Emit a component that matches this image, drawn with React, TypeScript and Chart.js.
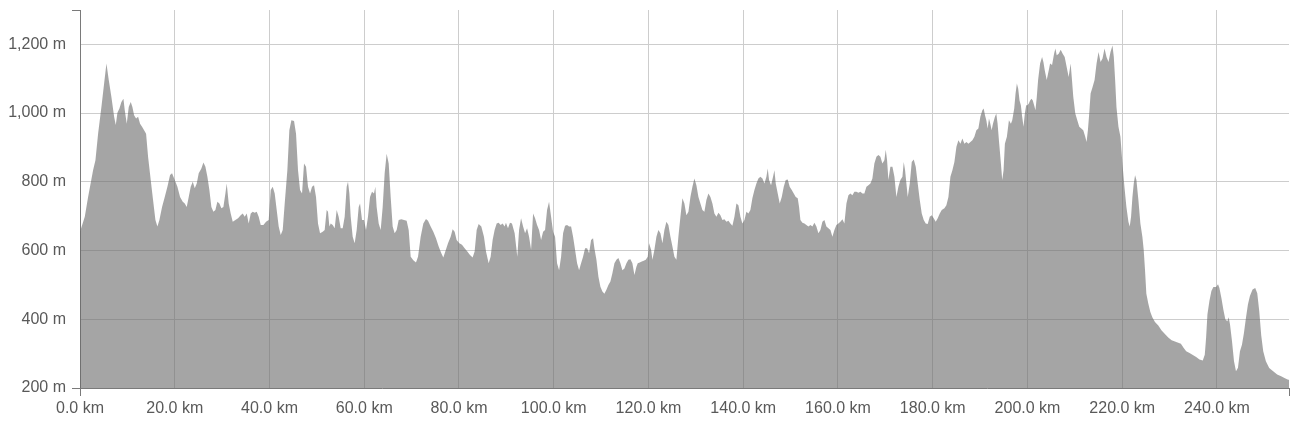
import React, { useEffect, useRef } from "react";
import { Chart, registerables } from "chart.js";

Chart.register(...registerables);

// Distance along the route (km)
const distanceKm: number[] = [
  0, 1.01, 1.71, 2.76, 3.26, 3.82, 4.52, 5.09, 5.58, 6.07, 6.63, 7.2, 7.55, 7.9, 8.32, 8.74, 9.17, 9.45, 9.87, 10.29,
  10.71, 11.06, 11.42, 11.84, 12.26, 12.68, 13.1, 13.53, 13.95, 14.37, 14.93, 15.42, 15.92, 16.34, 16.76, 17.32, 17.89, 18.45, 19.01, 19.43,
  20.0, 20.56, 21.12, 21.69, 22.11, 22.53, 22.95, 23.37, 23.8, 24.22, 24.64, 25.06, 25.62, 26.05, 26.47, 26.89, 27.31, 27.73, 28.16, 28.58,
  29.0, 29.42, 29.84, 30.27, 30.69, 30.97, 31.39, 31.81, 32.24, 32.8, 33.36, 33.92, 34.35, 34.77, 35.19, 35.61, 36.04, 36.46, 36.88, 37.3,
  37.72, 38.15, 38.71, 39.27, 39.83, 40.26, 40.68, 41.1, 41.52, 41.94, 42.37, 42.79, 43.21, 43.77, 44.19, 44.62, 45.18, 45.6, 46.02, 46.45,
  46.87, 47.29, 47.71, 48.13, 48.56, 48.98, 49.4, 49.82, 50.24, 50.67, 51.23, 51.65, 52.07, 52.35, 52.64, 52.92, 53.34, 53.76, 54.18, 54.6,
  55.03, 55.45, 55.87, 56.29, 56.57, 56.86, 57.14, 57.56, 57.98, 58.4, 58.83, 59.11, 59.53, 59.95, 60.37, 60.79, 61.22, 61.64, 62.06, 62.34,
  62.62, 63.05, 63.47, 63.89, 64.31, 64.73, 65.16, 65.58, 66.0, 66.42, 66.84, 67.27, 67.83, 68.39, 68.95, 69.38, 69.8, 70.36, 70.92, 71.35,
  71.91, 72.47, 73.03, 73.46, 74.02, 74.58, 75.14, 75.71, 76.27, 76.69, 77.11, 77.68, 78.24, 78.66, 79.08, 79.5, 80.07, 80.63, 81.19, 81.76,
  82.32, 82.88, 83.3, 83.73, 84.15, 84.71, 85.27, 85.7, 86.26, 86.68, 87.1, 87.52, 87.95, 88.37, 88.79, 89.21, 89.63, 89.91, 90.34, 90.76,
  91.18, 91.75, 92.31,
  92.68, 93.1, 93.53, 93.95, 94.37, 94.79, 95.22, 95.64, 96.06, 96.48, 96.9, 97.33, 97.75, 98.17, 98.59, 99.01, 99.44, 99.86,
  100.28, 100.7, 101.13, 101.55, 101.97, 102.39, 102.81, 103.24, 103.66, 104.08, 104.5, 104.93, 105.35, 105.77, 106.19, 106.61, 107.04, 107.46, 107.88, 108.3,
  108.58, 109.01, 109.43, 109.85, 110.27, 110.69, 111.12, 111.54, 111.96, 112.38, 112.81, 113.23, 113.65, 114.07, 114.49, 114.92, 115.34, 115.76, 116.18, 116.6,
  117.03, 117.45, 117.73, 118.15, 118.58, 119.0, 119.42, 119.84, 120.12, 120.55, 120.83, 121.25, 121.67, 122.09, 122.52, 122.94, 123.36, 123.78, 124.2, 124.63,
  125.05, 125.47, 125.89, 126.31, 126.74, 127.16, 127.58, 128.0, 128.43, 128.85, 129.27, 129.69, 130.11, 130.54, 130.96, 131.38, 131.8, 132.22, 132.65, 133.07,
  133.49, 133.91, 134.34, 134.76, 135.18, 135.6, 136.02, 136.45, 136.87, 137.29, 137.71, 138.14, 138.56, 138.98, 139.4, 139.82, 140.25, 140.67, 141.09, 141.51,
  141.93, 142.36, 142.78, 143.2, 143.62, 144.05, 144.47, 144.89, 145.17, 145.45, 145.87, 146.29, 146.58, 146.86, 147.28, 147.7, 148.13, 148.55, 148.97, 149.39,
  149.81, 150.24, 150.66, 151.08, 151.5, 151.78, 152.07, 152.49, 152.91, 153.33, 153.75, 154.18, 154.6, 155.02, 155.44, 155.86, 156.29, 156.71, 157.13, 157.55,
  157.98, 158.4, 158.82, 159.24, 159.66, 160.09, 160.51, 160.93, 161.35, 161.78, 162.2, 162.62, 163.04, 163.46, 163.89, 164.31, 164.73, 165.15, 165.57, 166.0,
  166.42, 166.84, 167.26, 167.68, 168.11, 168.53, 168.95, 169.37, 169.79, 170.08, 170.36, 170.64, 171.06, 171.49, 171.91, 172.33, 172.75, 173.17, 173.6, 173.88,
  174.16, 174.44, 174.72, 175.15, 175.57, 175.99, 176.41, 176.83, 177.26, 177.68, 178.1, 178.52, 178.94, 179.37, 179.79, 180.21, 180.63, 181.05, 181.48, 181.9,
  182.46, 182.88, 183.31, 183.73, 184.15, 184.57,
  185.0, 185.42, 185.84, 186.26, 186.68, 187.11, 187.53, 187.95, 188.37, 188.79, 189.21, 189.63, 190.05, 190.47, 190.75, 191.03, 191.31, 191.59, 191.87, 192.15,
  192.43, 192.71, 193.13, 193.41, 193.69, 193.97, 194.39, 194.67, 194.95, 195.23, 195.65, 196.08, 196.5, 196.78, 197.2, 197.48, 197.76, 198.04, 198.32, 198.6,
  198.88, 199.16, 199.44, 199.72, 200.0, 200.28, 200.56, 200.84, 201.12, 201.4, 201.68, 201.96, 202.24, 202.66, 203.08, 203.36, 203.64, 204.06, 204.49, 204.77,
  205.19, 205.61, 205.89, 206.17, 206.59, 207.01, 207.43, 207.85, 208.27, 208.69, 209.11, 209.39, 209.67, 210.09, 210.51, 210.93, 211.35, 211.77, 212.19, 212.47,
  212.75, 213.03, 213.32, 213.74, 214.16, 214.58, 215.0, 215.42, 215.84, 216.26, 216.68, 217.1, 217.52, 217.94, 218.22, 218.5, 218.78, 219.2, 219.62, 220.04,
  220.46, 220.88, 221.3, 221.58, 221.86, 222.15, 222.43, 222.71, 222.99, 223.41, 223.83, 224.25, 224.53, 224.81, 225.09, 225.51, 225.93, 226.35, 226.91, 227.61,
  228.31, 229.01, 229.71, 230.42, 231.12, 231.82, 232.38, 232.94, 233.5, 234.2, 234.9, 235.6, 236.3, 237.0, 237.42, 237.7, 237.98, 238.4, 238.82, 239.24,
  239.8, 240.22, 240.51, 240.93, 241.35, 241.77, 242.19, 242.47, 242.75, 243.17, 243.59, 244.01, 244.43, 244.85, 245.27, 245.69, 246.11, 246.53, 246.95, 247.51,
  248.07, 248.5, 248.92, 249.34, 249.76, 250.32, 251.02, 251.86, 252.7, 253.54, 254.24, 255.01, 255.2,
];

// Elevation (m)
const elevationM: number[] = [
  655, 698, 756, 834, 863, 940, 1018, 1086, 1144, 1096, 1047, 989, 965, 1001, 1013, 1032, 1042, 1008, 969, 1018,
  1032, 1018, 994, 984, 989, 969, 960, 950, 940, 873, 805, 747, 689, 670, 689, 727, 756, 786, 820, 825,
  805, 786, 756, 742, 737, 727, 756, 786, 800, 781, 795, 825, 839, 856, 844, 815, 776, 727, 713, 718,
  742, 737, 723, 727, 766, 795, 737, 708, 684, 689, 694, 703, 708, 698, 708, 679, 708, 713, 710, 713,
  698, 674, 674, 684, 689, 776, 786, 766, 718, 670, 645, 660, 737, 834, 950, 979, 977, 940, 834, 776,
  766, 853, 844, 786, 766, 786, 790, 756, 679, 650, 655, 660, 718, 713, 670, 679, 674, 665, 718, 698,
  665, 665, 698, 786, 800, 766, 698, 640, 621, 660, 727, 737, 689, 689, 660, 698, 756, 771, 766, 786,
  727, 679, 660, 727, 825, 882, 853, 756, 670, 650, 660, 689, 691, 689, 687, 660, 582, 572, 565, 582,
  640, 679, 692, 687, 670, 655, 636, 612, 592, 580, 597, 621, 640, 662, 655, 631, 621, 617, 607, 597,
  587, 580, 597, 660, 677, 670, 640, 597, 563, 582, 631, 660, 679, 681, 674, 679, 670, 681, 665, 681,
  679, 650, 582,
  660, 694, 670, 650, 665, 640, 602, 708, 694, 674, 660, 631, 655, 660, 718, 742, 698, 655,
  640, 563, 543, 582, 650, 672, 674, 670, 670, 640, 602, 563, 543, 563, 582, 607, 607, 592, 631, 636,
  607, 573, 524, 495, 481, 474, 486, 500, 510, 534, 563, 573, 578, 563, 543, 548, 563, 573, 575, 563,
  529, 553, 563, 565, 568, 570, 573, 582, 621, 602, 573, 602, 640, 660, 650, 621, 660, 684, 674, 640,
  612, 582, 573, 640, 698, 752, 737, 703, 713, 756, 786, 810, 790, 756, 737, 718, 713, 747, 766, 756,
  737, 708, 698, 710, 703, 689, 691, 684, 687, 679, 672, 698, 737, 732, 698, 679, 689, 713, 708, 718,
  752, 776, 795, 810, 815, 810, 795, 815, 839, 805, 790, 815, 834, 795, 766, 737, 756, 786, 805, 807,
  786, 776, 766, 756, 752, 727, 689, 681, 679, 674, 670, 674, 670, 681, 670, 650, 660, 684, 689, 670,
  665, 660, 640, 660, 674, 679, 684, 691, 679, 737, 761, 766, 761, 771, 771, 768, 771, 766, 766, 786,
  790, 795, 810, 853, 873, 878, 873, 853, 863, 893, 863, 805, 844, 844, 815, 756, 786, 805, 815, 858,
  834, 795, 756, 795, 858, 865, 844, 795, 747, 708, 689, 679, 677, 698, 703, 694, 684, 694, 708, 718,
  723, 732, 756, 815, 834, 858,
  902, 921, 911, 926, 911, 916, 911, 916, 921, 931, 950, 955, 989, 1008, 1013, 994, 979, 955, 984, 969,
  950, 969, 989, 999, 969, 921, 853, 805, 834, 911, 931, 979, 969, 979, 1013, 1057, 1086, 1071, 1037, 1023,
  989, 960, 999, 1023, 1023, 1028, 1037, 1042, 1037, 1023, 1008, 1047, 1096, 1144, 1163, 1149, 1125, 1096, 1125, 1144,
  1140, 1173, 1188, 1168, 1173, 1184, 1173, 1163, 1134, 1105, 1144, 1096, 1047, 999, 979, 960, 955, 950, 931, 916,
  950, 999, 1057, 1076, 1096, 1144, 1178, 1149, 1159, 1188, 1163, 1149, 1178, 1197, 1163, 1096, 1018, 960, 931, 853,
  786, 727, 684, 670, 698, 756, 795, 819, 805, 747, 679, 640, 602, 543, 474, 445, 421, 406, 392, 382,
  367, 357, 347, 339, 335, 332, 329, 317, 307, 302, 296, 290, 283, 280, 297, 346, 414, 453, 482, 494,
  494, 502, 491, 462, 428, 399, 394, 406, 385, 336, 278, 249, 259, 307, 326, 360, 404, 443, 468, 487,
  491, 476, 423, 353, 307, 278, 258, 249, 239, 234, 229, 224, 224,
];

const X_MIN = 0;
const X_MAX = 255.2;
const X_STEP = 20;
const Y_MIN = 200;
const Y_MAX = 1300;
const Y_STEP = 200;

const AXIS_COLOR = "#7a7a7a";
const GRID_COLOR = "#cdcdcd";
const TEXT_COLOR = "#595959";
const CLEAR = "rgba(0,0,0,0)";
const FONT = { family: "'Liberation Sans', Arial, Helvetica, sans-serif", size: 16 };

function fmtThousands(v: number): string {
  return Math.round(v).toString().replace(/\B(?=(\d{3})+(?!\d))/g, ",");
}

export default function App() {
  const ref = useRef<HTMLCanvasElement | null>(null);

  useEffect(() => {
    if (!ref.current) return;
    const points = distanceKm.map((x, i) => ({ x, y: elevationM[i] }));
    const chart = new Chart(ref.current, {
      type: "line",
      data: {
        datasets: [
          {
            data: points,
            fill: "start",
            backgroundColor: "rgba(105,105,105,0.6)",
            borderColor: CLEAR,
            borderWidth: 0,
            pointRadius: 0,
            pointHoverRadius: 0,
            tension: 0,
          },
        ],
      },
      options: {
        animation: false,
        responsive: false,
        devicePixelRatio: 1,
        events: [],
        layout: { padding: { top: 2, right: 3, left: 0, bottom: 0 } },
        plugins: { legend: { display: false }, tooltip: { enabled: false } },
        scales: {
          x: {
            type: "linear",
            min: X_MIN,
            max: X_MAX,
            afterFit: (s: any) => {
              s.height = 42;
              s.paddingLeft = 0;
              s.paddingRight = 0;
            },
            ticks: {
              stepSize: X_STEP,
              autoSkip: false,
              maxRotation: 0,
              padding: 3,
              color: TEXT_COLOR,
              font: FONT,
              callback: (v: any) => (Number(v) >= X_MAX ? "" : Number(v).toFixed(1) + " km"),
            },
            grid: {
              color: (ctx: any) => (ctx.tick && ctx.tick.value >= X_MAX ? CLEAR : GRID_COLOR),
              tickColor: (ctx: any) =>
                ctx.index === 0 || (ctx.tick && ctx.tick.value >= X_MAX) ? AXIS_COLOR : CLEAR,
              tickLength: 8,
              lineWidth: 1,
            },
            border: { color: AXIS_COLOR, width: 1 },
          },
          y: {
            type: "linear",
            min: Y_MIN,
            max: Y_MAX,
            afterFit: (s: any) => {
              s.width = 72;
              s.paddingTop = 0;
              s.paddingBottom = 0;
            },
            ticks: {
              stepSize: Y_STEP,
              autoSkip: false,
              padding: 6,
              color: TEXT_COLOR,
              font: FONT,
              callback: (v: any) => (Number(v) >= Y_MAX ? "" : fmtThousands(Number(v)) + " m"),
            },
            grid: {
              color: (ctx: any) => (ctx.tick && ctx.tick.value >= Y_MAX ? CLEAR : GRID_COLOR),
              tickColor: (ctx: any) =>
                ctx.index === 0 || (ctx.tick && ctx.tick.value >= Y_MAX) ? AXIS_COLOR : CLEAR,
              tickLength: 8,
              lineWidth: 1,
            },
            border: { color: AXIS_COLOR, width: 1 },
          },
        },
      },
    });
    return () => chart.destroy();
  }, []);

  return <canvas ref={ref} width={1284} height={422} style={{ display: "block" }} />;
}
